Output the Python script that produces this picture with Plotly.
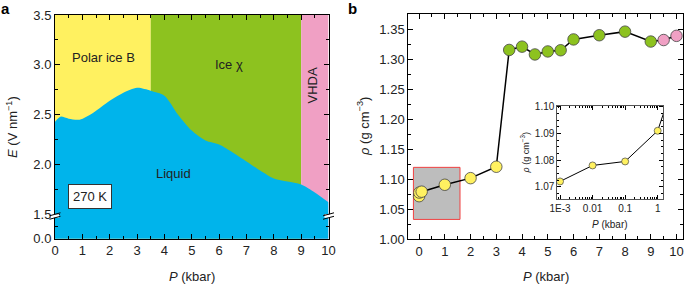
import plotly.graph_objects as go

# ---------- Panel a data ----------
P_liq = [0, 0.2, 0.5, 0.9, 1.4, 2.0, 2.5, 3.0, 3.5, 4.0, 4.5, 5.0, 5.5, 6.0, 6.5, 7.0, 7.5, 8.0, 8.5, 9.0, 9.5, 10.0]
E_liq = [2.43, 2.48, 2.46, 2.45, 2.52, 2.64, 2.72, 2.77, 2.74, 2.69, 2.50, 2.34, 2.24, 2.20, 2.12, 2.03, 1.94, 1.86, 1.83, 1.80, 1.72, 1.62]
phase_bounds = [0, 3.5, 9, 10]
phase_names = ["Polar ice B", "Ice χ", "VHDA"]
phase_colors = ["#FFF160", "#8DC21F", "#F0A0C4"]
E_top = 3.5
E_floor = 1.255  # position of "0.0" on the broken axis

# ---------- Panel b data ----------
P_b = [0.001, 0.01, 0.1, 1, 2, 3, 3.5, 4, 4.5, 5, 5.5, 6, 7, 8, 9, 9.5, 10]
rho_b = [1.072, 1.078, 1.0795, 1.091, 1.102, 1.121, 1.3155, 1.321, 1.308, 1.313, 1.315, 1.333, 1.340, 1.346, 1.3295, 1.332, 1.339]
phase_b = ["B", "B", "B", "B", "B", "B", "X", "X", "X", "X", "X", "X", "X", "X", "X", "V", "V"]
phase_b_colors = {"B": "#FFF160", "X": "#8DC21F", "V": "#F0A0C4"}
inset_ticks = [0.001, 0.01, 0.1, 1]
inset_ticktext = ["1E-3", "0.01", "0.1", "1"]

FONT = "Liberation Sans, Arial, sans-serif"
fig = go.Figure()

# Phase regions (panel a)
for i, name in enumerate(phase_names):
    x0, x1 = phase_bounds[i], phase_bounds[i + 1]
    fig.add_trace(go.Scatter(x=[x0, x1, x1, x0, x0], y=[E_floor, E_floor, E_top, E_top, E_floor],
                             fill="toself", fillcolor=phase_colors[i], mode="lines",
                             line=dict(width=0), xaxis="x", yaxis="y", hoverinfo="skip", showlegend=False))
# Liquid
fig.add_trace(go.Scatter(x=P_liq, y=E_liq, mode="lines", line=dict(width=0, shape="spline", smoothing=0.8),
                         fill="tozeroy", fillcolor="#00B4EB", xaxis="x", yaxis="y", showlegend=False))

# Panel b main line + markers
fig.add_trace(go.Scatter(x=P_b, y=rho_b, mode="lines", line=dict(color="black", width=1.5),
                         xaxis="x2", yaxis="y2", showlegend=False))
fig.add_trace(go.Scatter(x=P_b, y=rho_b, mode="markers",
                         marker=dict(size=11.5, color=[phase_b_colors[p] for p in phase_b],
                                     line=dict(color="#444", width=0.8)),
                         xaxis="x2", yaxis="y2", showlegend=False))
# Inset
fig.add_trace(go.Scatter(x=P_b, y=rho_b, mode="lines+markers", line=dict(color="black", width=1),
                         marker=dict(size=7, color=[phase_b_colors[p] for p in phase_b],
                                     line=dict(color="#444", width=0.7)),
                         xaxis="x3", yaxis="y3", showlegend=False, cliponaxis=True))

axcommon = dict(showline=True, linecolor="black", linewidth=1, mirror="allticks", ticks="inside",
                ticklen=5, tickcolor="black", showgrid=False, zeroline=False, automargin=False,
                tickfont=dict(family=FONT, size=13, color="#222"))

ax_a_x = dict(axcommon, domain=[0.0803, 0.4796], range=[0, 10], tickvals=list(range(11)),
              minor=dict(ticks="inside", ticklen=3, tickcolor="black", dtick=0.5, tick0=0),
              anchor="y")
ax_a_y = dict(axcommon, domain=[0.1595, 0.947], range=[E_floor, E_top],
              tickvals=[E_floor, 1.5, 2.0, 2.5, 3.0, 3.5],
              ticktext=["0.0", "1.5", "2.0", "2.5", "3.0", "3.5"],
              minor=dict(ticks="inside", ticklen=3, tickcolor="black",
                         tickvals=[1.3775, 1.75, 2.25, 2.75, 3.25]),
              anchor="x")
ax_b_x = dict(axcommon, domain=[0.596, 0.997], range=[-0.42, 10.25], tickvals=list(range(11)),
              minor=dict(ticks="inside", ticklen=3, tickcolor="black", dtick=0.5, tick0=0),
              anchor="y2")
ax_b_y = dict(axcommon, domain=[0.157, 0.951], range=[1.0, 1.3755],
              tickvals=[1.0, 1.05, 1.1, 1.15, 1.2, 1.25, 1.3, 1.35],
              ticktext=["1.00", "1.05", "1.10", "1.15", "1.20", "1.25", "1.30", "1.35"],
              minor=dict(ticks="inside", ticklen=3, tickcolor="black", dtick=0.025, tick0=1.0),
              anchor="x2")
minor_log = [m * 10 ** e for e in range(-4, 1) for m in range(2, 10)]
ax_c_x = dict(axcommon, domain=[0.8136, 0.9683], type="log", range=[-3.083, 0.172],
              tickvals=inset_ticks, ticktext=inset_ticktext, ticklen=4,
              tickfont=dict(family=FONT, size=10, color="#222"), linecolor="#555",
              minor=dict(ticks="inside", ticklen=2, tickcolor="black", tickvals=minor_log),
              anchor="y3")
ax_c_y = dict(axcommon, domain=[0.2982, 0.6278], range=[1.0653, 1.1004],
              tickvals=[1.07, 1.08, 1.09, 1.10], ticktext=["1.07", "1.08", "1.09", "1.10"], ticklen=4,
              tickfont=dict(family=FONT, size=10, color="#222"), linecolor="#555",
              minor=dict(ticks="inside", ticklen=2, tickcolor="black", dtick=0.0025, tick0=1.07),
              anchor="x3")

fig.update_layout(width=685, height=284, margin=dict(l=0, r=0, t=0, b=0),
                  paper_bgcolor="white", plot_bgcolor="white",
                  xaxis=ax_a_x, yaxis=ax_a_y, xaxis2=ax_b_x, yaxis2=ax_b_y,
                  xaxis3=ax_c_x, yaxis3=ax_c_y,
                  font=dict(family=FONT, color="#222"))

# Gray highlight rectangle in panel b (region covered by inset)
fig.add_shape(type="rect", xref="x2", yref="y2", x0=-0.22, x1=1.59, y0=1.0333, y1=1.12,
              fillcolor="#BDBDBD", line=dict(color="#F04040", width=1), layer="below")

# Axis-break marks on panel a
for xp in [0.0, 1.0]:
    xc = 0.0803 + xp * 0.3993
    fig.add_shape(type="rect", xref="paper", yref="y", x0=xc - 0.006, x1=xc + 0.006, y0=1.465, y1=1.50,
                  fillcolor="white", line=dict(width=0), layer="above")
    for dy in [0.0, 0.035]:
        fig.add_shape(type="line", xref="paper", yref="y",
                      x0=xc - 0.008, x1=xc + 0.008,
                      y0=1.45 + dy, y1=1.48 + dy, line=dict(color="black", width=1), layer="above")

ann = []
def A(text, x, y, xref, yref, size=13, color="#222", **kw):
    d = dict(text=text, x=x, y=y, xref=xref, yref=yref, showarrow=False,
             xanchor="center", yanchor="middle",
             font=dict(family=FONT, size=size, color=color))
    d.update(kw)
    ann.append(d)

A("Polar ice B", 1.79, 3.07, "x", "y")
A("Ice χ", 6.37, 3.0, "x", "y")
A("VHDA", 9.42, 2.79, "x", "y", textangle=-90)
A("Liquid", 4.32, 1.91, "x", "y")
A("270 K", 1.28, 1.68, "x", "y", bgcolor="white", bordercolor="#333", borderwidth=1, borderpad=4)
A("<b>a</b>", 0.008, 0.97, "paper", "paper", size=15, color="black")
A("<b>b</b>", 0.514, 0.97, "paper", "paper", size=15, color="black")
A("<i>E</i> (V nm<sup>−1</sup>)", 0.0175, 0.553, "paper", "paper", textangle=-90)
A("<i>P</i> (kbar)", 0.28, 0.028, "paper", "paper")
A("<i>ρ</i> (g cm<sup>−3</sup>)", 0.53, 0.553, "paper", "paper", textangle=-90)
A("<i>P</i> (kbar)", 0.797, 0.028, "paper", "paper")
A("<i>ρ</i> (g cm<sup>−3</sup>)", 0.767, 0.461, "paper", "paper", size=9, textangle=-90)
A("<i>P</i> (kbar)", 0.891, 0.208, "paper", "paper", size=10)
fig.update_layout(annotations=ann)

fig.write_html("out.html", config={"displayModeBar": False},
               post_script="document.body.style.margin='0';document.body.style.overflow='hidden';")
